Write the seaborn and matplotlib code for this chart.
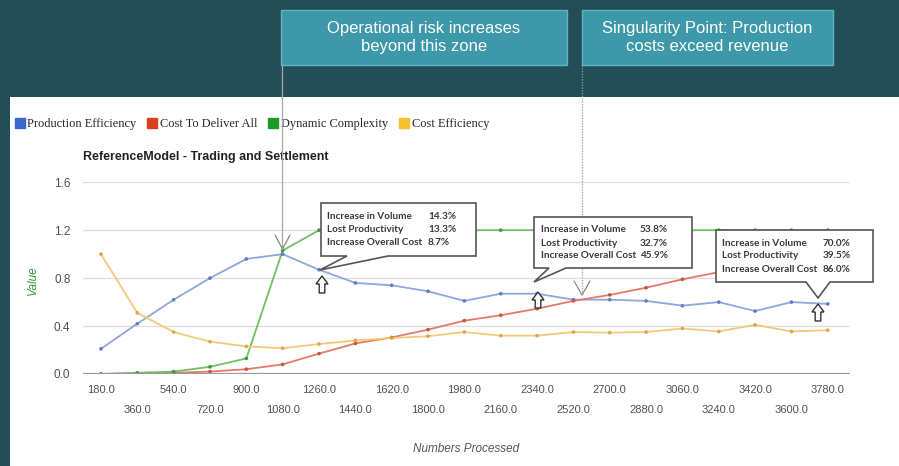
import matplotlib
matplotlib.use("Agg")
import numpy as np
import pandas as pd
import matplotlib.pyplot as plt
import seaborn as sns
from matplotlib.patches import Polygon, Rectangle
from matplotlib.lines import Line2D

# ---------------- data ----------------
numbers = [180, 360, 540, 720, 900, 1080, 1260, 1440, 1620, 1800, 1980,
           2160, 2340, 2520, 2700, 2880, 3060, 3240, 3420, 3600, 3780]
production_efficiency = [0.21, 0.42, 0.62, 0.80, 0.96, 1.00, 0.87, 0.76, 0.74, 0.69, 0.61,
                         0.67, 0.67, 0.62, 0.62, 0.61, 0.57, 0.60, 0.525, 0.60, 0.585]
cost_to_deliver_all = [0.00, 0.005, 0.01, 0.02, 0.04, 0.08, 0.17, 0.255, 0.305, 0.37, 0.445,
                       0.49, 0.545, 0.61, 0.66, 0.72, 0.79, 0.85, 0.91, 0.97, 1.03]
dynamic_complexity = [0.00, 0.01, 0.02, 0.06, 0.13, 1.03, 1.20, 1.20, 1.20, 1.20, 1.20,
                      1.20, 1.20, 1.20, 1.20, 1.20, 1.20, 1.20, 1.20, 1.20, 1.20]
cost_efficiency = [1.00, 0.51, 0.35, 0.27, 0.23, 0.215, 0.25, 0.28, 0.30, 0.315, 0.35,
                   0.32, 0.32, 0.35, 0.345, 0.35, 0.38, 0.355, 0.41, 0.355, 0.365]
series_names = ["Production Efficiency", "Cost To Deliver All",
                "Dynamic Complexity", "Cost Efficiency"]
y_ticks = [0.0, 0.4, 0.8, 1.2, 1.6]
callout_labels = ["Increase in Volume", "Lost Productivity", "Increase Overall Cost"]
callout_values = [["14.3%", "13.3%", "8.7%"],
                  ["53.8%", "32.7%", "45.9%"],
                  ["70.0%", "39.5%", "86.0%"]]
banner_texts = ["Operational risk increases\nbeyond this zone",
                "Singularity Point: Production\ncosts exceed revenue"]
title = "ReferenceModel - Trading and Settlement"

# ---------------- styles ----------------
legend_colors = ["#3b67cc", "#d8401f", "#1f9a2a", "#f4c030"]
line_colors = ["#8ea6da", "#e57a66", "#72bf66", "#f3c978"]
dot_colors = ["#5f7fc4", "#c8553f", "#3f9a40", "#d9a94f"]

W, H = 899, 466
def fx(x): return x / W
def fy(y): return 1 - y / H

sns.set_theme(style="white")
plt.rcParams["font.family"] = ["Liberation Sans", "DejaVu Sans"]

fig = plt.figure(figsize=(W / 100, H / 100), dpi=100, facecolor="white")
ax = fig.add_axes([fx(83), fy(374), (850 - 83) / W, (374 - 182) / H])
ax.set_facecolor("white")

df = pd.DataFrame({
    "Numbers": numbers * 4,
    "Value": production_efficiency + cost_to_deliver_all + dynamic_complexity + cost_efficiency,
    "Series": sum([[s] * len(numbers) for s in series_names], []),
})

sns.lineplot(data=df, x="Numbers", y="Value", hue="Series", hue_order=series_names,
             palette=line_colors, linewidth=1.3, legend=False, ax=ax, zorder=3)
sns.scatterplot(data=df, x="Numbers", y="Value", hue="Series", hue_order=series_names,
                palette=dot_colors, s=7, linewidth=0, legend=False, ax=ax, zorder=4)

ax.set_xlim(91, 3890)
ax.set_ylim(0, 1.602)
for sp in ax.spines.values():
    sp.set_visible(False)
ax.set_yticks(y_ticks)
ax.set_yticklabels([f"{v:.1f}" for v in y_ticks])
for v in y_ticks[1:]:
    ax.axhline(v, color="#dedede", lw=0.9, zorder=1)
ax.axhline(0, color="#9a9a9a", lw=1.6, zorder=5)
ax.tick_params(axis="y", length=0, pad=9, labelsize=8.5, labelcolor="#505050")

ax.set_xticks(numbers[0::2])
ax.set_xticklabels([f"{v:.1f}" for v in numbers[0::2]])
ax.set_xticks(numbers[1::2], minor=True)
ax.set_xticklabels([f"{v:.1f}" for v in numbers[1::2]], minor=True)
ax.tick_params(axis="x", which="major", length=0, pad=8, labelsize=8, labelcolor="#505050")
ax.tick_params(axis="x", which="minor", length=0, pad=22, labelsize=8, labelcolor="#505050")

ax.set_xlabel("Numbers Processed", fontsize=8.5, style="italic", color="#555555")
ax.xaxis.set_label_coords(0.5, -0.36)
ax.set_ylabel("Value", fontsize=8.5, style="italic", color="#2f9a3a")
ax.yaxis.set_label_coords(-0.057, 0.49)

# ---------------- background framing ----------------
fig.add_artist(Rectangle((0, fy(97)), 1, 97 / H, transform=fig.transFigure,
                         facecolor="#244e57", edgecolor="none", zorder=-10))
fig.add_artist(Rectangle((0, 0), 10 / W, fy(97), transform=fig.transFigure,
                         facecolor="#244e57", edgecolor="none", zorder=-10))

# ---------------- legend & title ----------------
handles = [Line2D([], [], marker="s", linestyle="none", markersize=6.5,
                  markerfacecolor=c, markeredgecolor=c) for c in legend_colors]
fig.legend(handles, series_names, loc="center left", bbox_to_anchor=(fx(16), fy(124)),
           ncol=4, frameon=False, handlelength=0.6, handletextpad=0.3,
           columnspacing=1.0, borderpad=0, borderaxespad=0,
           prop={"family": "Liberation Serif", "size": 8.9})
fig.text(fx(83), fy(157), title, fontsize=9, fontweight="bold", color="#222222",
         ha="left", va="center")

# ---------------- banners at top ----------------
banners = [(281, 567), (582, 833)]
for (x0, x1), txt in zip(banners, banner_texts):
    fig.add_artist(Rectangle((fx(x0), fy(65)), (x1 - x0) / W, 55 / H,
                             transform=fig.transFigure, facecolor="#3d98a9",
                             edgecolor="#62b3c2", lw=1.0, zorder=6))
    fig.text(fx((x0 + x1) / 2), fy(37.5), txt, ha="center", va="center",
             fontsize=12, color="white", linespacing=1.28, zorder=7)

# pointer lines from banners
fig.add_artist(Line2D([fx(282), fx(282)], [fy(65), fy(249)], transform=fig.transFigure,
                      color="#a8a8a8", lw=0.9, zorder=6))
fig.add_artist(Line2D([fx(275), fx(282.5), fx(290)], [fy(235), fy(249), fy(235)],
                      transform=fig.transFigure, color="#888888", lw=0.9, zorder=6))
fig.add_artist(Line2D([fx(582), fx(582)], [fy(65), fy(295)], transform=fig.transFigure,
                      color="#9a9a9a", lw=0.9, ls=(0, (1, 1.2)), zorder=6))
fig.add_artist(Line2D([fx(574), fx(582), fx(590)], [fy(281), fy(295), fy(281)],
                      transform=fig.transFigure, color="#888888", lw=0.9, zorder=6))

# ---------------- callout boxes ----------------
def callout(pts):
    fig.add_artist(Polygon([(fx(x), fy(y)) for x, y in pts], closed=True,
                           transform=fig.transFigure, facecolor="white",
                           edgecolor="#555555", lw=1.2, zorder=8))

def up_arrow(cx, top, bottom):
    pts = [(cx, top), (cx + 6, top + 8), (cx + 2.8, top + 8), (cx + 2.8, bottom),
           (cx - 2.8, bottom), (cx - 2.8, top + 8), (cx - 6, top + 8)]
    fig.add_artist(Polygon([(fx(x), fy(y)) for x, y in pts], closed=True,
                           transform=fig.transFigure, facecolor="white",
                           edgecolor="#333333", lw=1.0, zorder=8))

callout([(321, 203), (476, 203), (476, 256), (388, 256), (320, 270), (347, 256), (321, 256)])
callout([(534, 217), (692, 217), (692, 268), (566, 268), (534, 282), (549, 268), (534, 268)])
callout([(716, 230), (873, 230), (873, 282), (830, 282), (818, 298), (806, 282), (716, 282)])

text_pos = [(327, 428, 216.5), (541, 640, 230), (722, 823, 243)]
for (lx, vx, y0), vals in zip(text_pos, callout_values):
    for i, (lab, val) in enumerate(zip(callout_labels, vals)):
        y = y0 + i * 13
        fig.text(fx(lx), fy(y), lab, fontsize=7.2, fontweight="bold", color="#3a3a3a",
                 family=["Lato", "DejaVu Sans"], ha="left", va="center", zorder=9)
        fig.text(fx(vx), fy(y), val, fontsize=7.2, fontweight="bold", color="#3a3a3a",
                 family=["Lato", "DejaVu Sans"], ha="left", va="center", zorder=9)

up_arrow(322, 276, 293)
up_arrow(538, 292, 308)
up_arrow(818, 304, 321)

fig.savefig("out.png", dpi=100, facecolor="white")
